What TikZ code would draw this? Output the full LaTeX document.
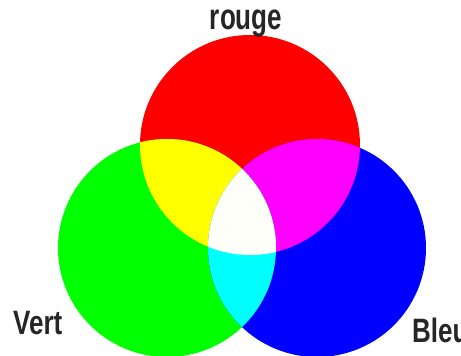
\documentclass[tikz,border=0pt]{standalone}
\usepackage{fontspec}
\setmainfont{Liberation Sans}
\definecolor{cred}{RGB}{255,0,0}
\definecolor{cgreen}{RGB}{0,255,0}
\definecolor{cblue}{RGB}{0,0,255}
\definecolor{cyellow}{RGB}{255,255,0}
\definecolor{cmag}{RGB}{255,0,255}
\definecolor{ccyan}{RGB}{0,255,255}
\definecolor{cwhite}{RGB}{255,255,250}
\begin{document}
\begin{tikzpicture}[x=1pt,y=-1pt,
  lbl/.style={font=\fontsize{26}{28}\selectfont\bfseries, text=black!85, inner sep=0pt}]
\clip (0,0) rectangle (461,356);
\fill[white] (0,0) rectangle (461,356);
\def\cR{(250,145) circle[radius=110pt]}
\def\cG{(167,248) circle[radius=109pt]}
\def\cB{(317,248) circle[radius=109pt]}
\fill[cred] \cR;
\fill[cgreen] \cG;
\fill[cblue] \cB;
\begin{scope}
  \clip \cR;
  \fill[cyellow] \cG;
  \fill[cmag] \cB;
\end{scope}
\begin{scope}
  \clip \cG;
  \fill[ccyan] \cB;
\end{scope}
\begin{scope}
  \clip \cR;
  \clip \cG;
  \fill[cwhite] \cB;
\end{scope}
\node[lbl, anchor=base] (rouge) at (246,30) {\scalebox{1}[1.4]{rouge}};
\node[lbl, anchor=base west] (vert) at (13,334) {\scalebox{1}[1.3]{Vert}};
\node[lbl, anchor=base west] (bleu) at (412,342) {\scalebox{1}[1.3]{Bleu}};
\end{tikzpicture}
\end{document}
